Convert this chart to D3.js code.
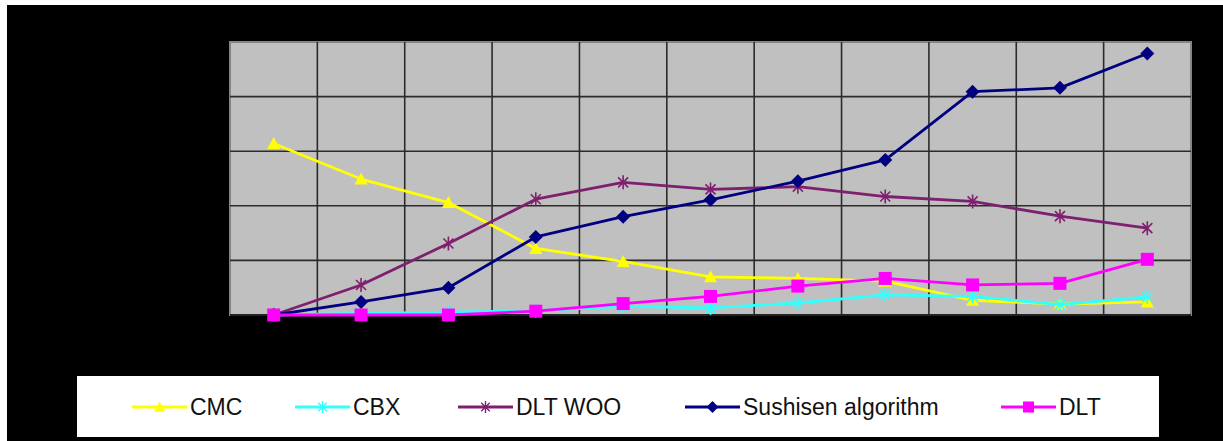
<!DOCTYPE html>
<html>
<head>
<meta charset="utf-8">
<script src="https://cdn.jsdelivr.net/npm/d3@7"></script>
<style>
  html, body { margin: 0; padding: 0; background: #ffffff; }
  svg { display: block; }
</style>
</head>
<body>
<svg id="chart" width="1223" height="441"></svg>
<script>
// Test points along the x axis
const categories = ["1", "2", "3", "4", "5", "6", "7", "8", "9", "10", "11"];

// Series values
const cmc      = [3.14, 2.49, 2.06, 1.22, 0.98, 0.70, 0.67, 0.62, 0.27, 0.20, 0.24];
const cbx      = [0.00, 0.03, 0.05, 0.08, 0.16, 0.13, 0.22, 0.37, 0.34, 0.19, 0.33];
const dltWoo   = [0.00, 0.55, 1.31, 2.12, 2.43, 2.30, 2.35, 2.17, 2.08, 1.81, 1.59];
const sushisen = [0.00, 0.24, 0.50, 1.43, 1.80, 2.11, 2.45, 2.84, 4.09, 4.16, 4.79];
const dlt      = [0.00, 0.00, 0.00, 0.07, 0.21, 0.34, 0.53, 0.67, 0.55, 0.58, 1.02];

const seriesNames = ["CMC", "CBX", "DLT WOO", "Sushisen algorithm", "DLT"];
const yTicks = [0, 1, 2, 3, 4, 5];

// Presentation for each series
const seriesStyle = [
  { values: cmc,      color: "#ffff00", marker: "triangle" },
  { values: cbx,      color: "#33ffff", marker: "star" },
  { values: dltWoo,   color: "#7f1f6f", marker: "star" },
  { values: sushisen, color: "#000080", marker: "diamond" },
  { values: dlt,      color: "#ff00ff", marker: "square" }
];

const markerPath = {
  triangle: "M0,-6.5L6.5,5.5L-6.5,5.5Z",
  diamond:  "M0,-7L7,0L0,7L-7,0Z",
  square:   "M-6.5,-6.5H6.5V6.5H-6.5Z",
  star:     "M-5,-5L5,5M-5,5L5,-5M0,-7V7"
};

const svg = d3.select("#chart");

// Black chart area below the white page strip
svg.append("rect")
  .attr("x", 7).attr("y", 5)
  .attr("width", 1223 - 7).attr("height", 441 - 5)
  .attr("fill", "#000000");

const plot = { left: 230, top: 42, right: 1191, bottom: 315 };

const x = d3.scaleBand()
  .domain(categories)
  .range([plot.left, plot.right]);

const y = d3.scaleLinear()
  .domain([0, 5])
  .range([plot.bottom, plot.top]);

// Plot area
svg.append("rect")
  .attr("x", plot.left).attr("y", plot.top)
  .attr("width", plot.right - plot.left)
  .attr("height", plot.bottom - plot.top)
  .attr("fill", "#c0c0c0")
  .attr("stroke", "#858585")
  .attr("stroke-width", 2);

// Horizontal gridlines
svg.append("g")
  .selectAll("line")
  .data(yTicks.filter(t => t > 0 && t < 5))
  .join("line")
  .attr("x1", plot.left).attr("x2", plot.right)
  .attr("y1", d => y(d)).attr("y2", d => y(d))
  .attr("stroke", "#2b2b2b")
  .attr("stroke-width", 1.6);

// Vertical gridlines between categories
svg.append("g")
  .selectAll("line")
  .data(categories.slice(1))
  .join("line")
  .attr("x1", d => x(d)).attr("x2", d => x(d))
  .attr("y1", plot.top).attr("y2", plot.bottom)
  .attr("stroke", "#2b2b2b")
  .attr("stroke-width", 1.6);

// Category axis line
svg.append("line")
  .attr("x1", plot.left).attr("x2", plot.right)
  .attr("y1", plot.bottom).attr("y2", plot.bottom)
  .attr("stroke", "#222222")
  .attr("stroke-width", 2);

const line = d3.line()
  .x((d, i) => x(categories[i]) + x.bandwidth() / 2)
  .y(d => y(d));

function drawMarker(sel, s) {
  const isStroke = s.marker === "star";
  sel.attr("d", markerPath[s.marker])
    .attr("fill", isStroke ? "none" : s.color)
    .attr("stroke", isStroke ? s.color : "none")
    .attr("stroke-width", isStroke ? 1.6 : 0);
}

seriesStyle.forEach(s => {
  const g = svg.append("g");
  g.append("path")
    .datum(s.values)
    .attr("d", line)
    .attr("fill", "none")
    .attr("stroke", s.color)
    .attr("stroke-width", 2.8)
    .attr("stroke-linejoin", "round");
  g.selectAll("path.mk")
    .data(s.values)
    .join("path")
    .attr("class", "mk")
    .attr("transform", (d, i) => `translate(${x(categories[i]) + x.bandwidth() / 2},${y(d)})`)
    .call(sel => drawMarker(sel, s));
});

// Legend
svg.append("rect")
  .attr("x", 77).attr("y", 376)
  .attr("width", 1082).attr("height", 61)
  .attr("fill", "#ffffff");

const legendX = [132, 295, 458, 685, 1001];
const legendY = 407;
const lineLen = 55;

seriesNames.forEach((name, i) => {
  const s = seriesStyle[i];
  const g = svg.append("g").attr("transform", `translate(${legendX[i]},${legendY})`);
  g.append("line")
    .attr("x1", 0).attr("x2", lineLen)
    .attr("y1", 0).attr("y2", 0)
    .attr("stroke", s.color)
    .attr("stroke-width", 2.8);
  g.append("path")
    .attr("transform", `translate(${lineLen / 2},0) scale(0.85)`)
    .call(sel => drawMarker(sel, s));
  g.append("text")
    .attr("x", lineLen + 3)
    .attr("y", 8)
    .attr("font-family", "'Liberation Sans', Arial, sans-serif")
    .attr("font-size", 23)
    .attr("fill", "#111111")
    .text(name);
});
</script>
</body>
</html>
